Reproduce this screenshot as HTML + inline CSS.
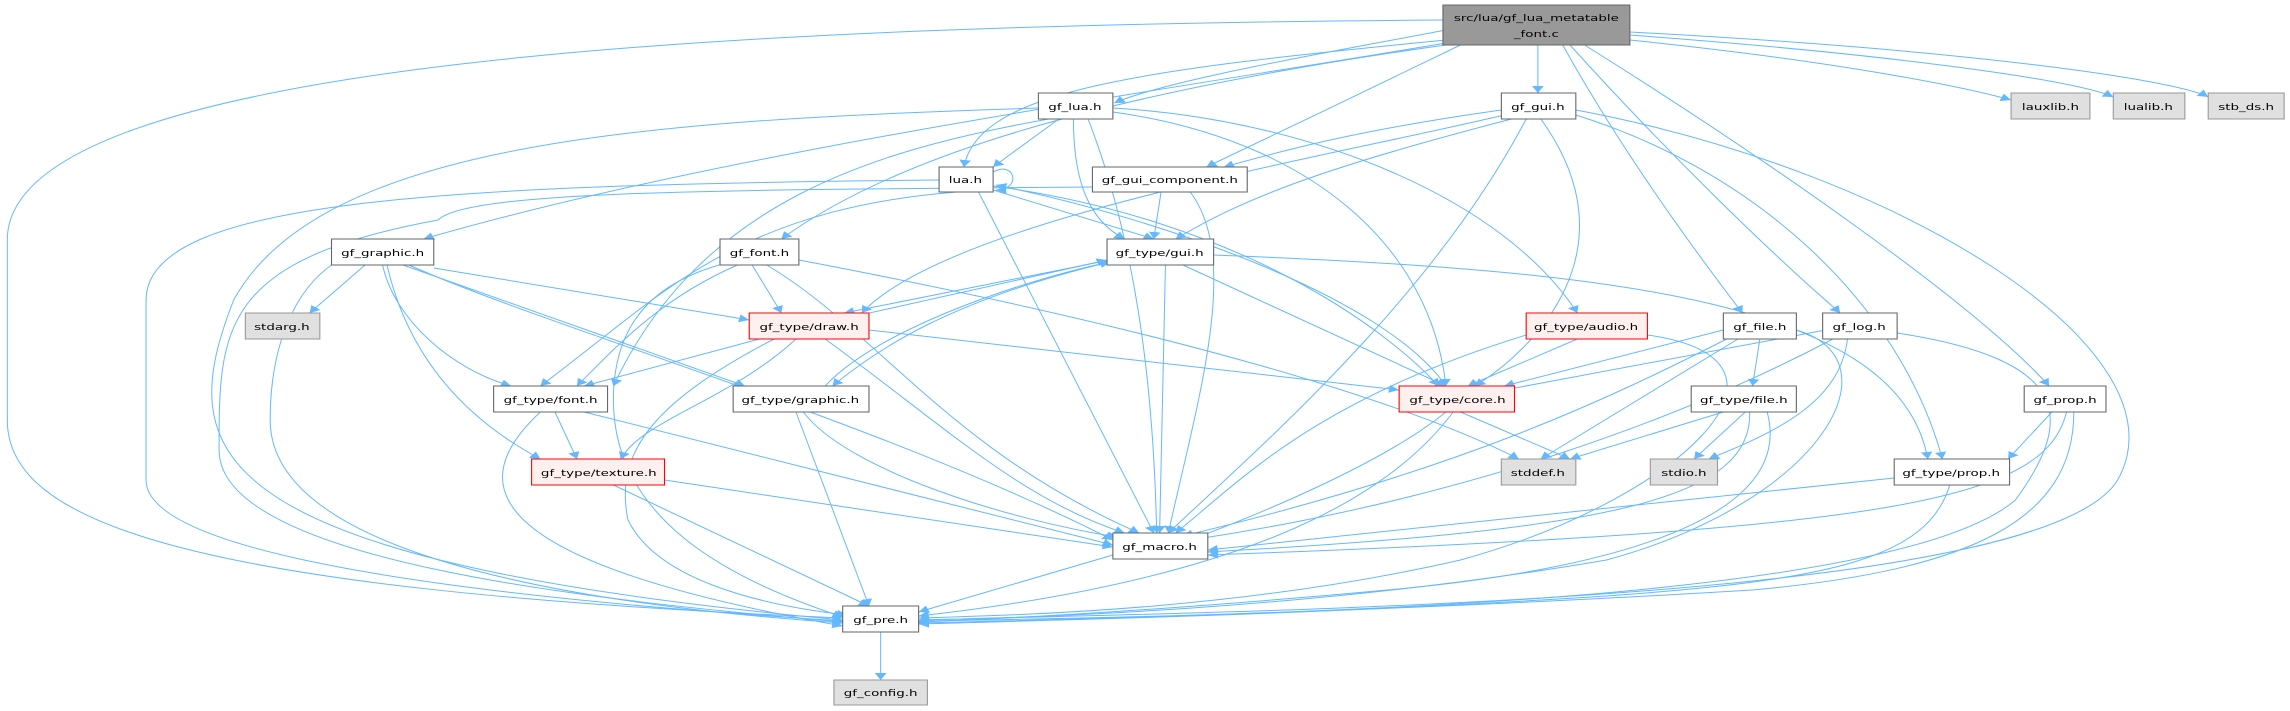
<!DOCTYPE html>
<html><head><meta charset="utf-8"><style>
html,body{margin:0;padding:0;background:#fff;}
svg{display:block;}
text{font-family:"DejaVu Sans","Liberation Sans",sans-serif;font-size:9.2px;fill:#000;}
.e{fill:none;stroke:#63b8ff;stroke-width:1;vector-effect:non-scaling-stroke;}
.n{fill:#fff;stroke:#666;stroke-width:1.1;vector-effect:non-scaling-stroke;}
.g{fill:#e0e0e0;stroke:#999;stroke-width:1.1;vector-effect:non-scaling-stroke;}
.r{fill:#fff0f0;stroke:#f00;stroke-width:1.1;vector-effect:non-scaling-stroke;}
.t{fill:#999;stroke:#666;stroke-width:1.1;vector-effect:non-scaling-stroke;}
</style></head><body>
<svg width="2290" height="711" viewBox="0 0 1568 711" preserveAspectRatio="none">
<defs><marker id="a" markerUnits="userSpaceOnUse" markerWidth="8" markerHeight="10" refX="7" refY="4" orient="auto"><path d="M0,0 L7,4 L0,8 z" fill="#63b8ff"/></marker></defs>
<g marker-end="url(#a)">
<path class="e" d="M988,20 C500,25 5,60 5,240 L5,420 C5,520 120,590 577,618"/>
<path class="e" d="M990,30 C900,55 800,80 763,103"/>
<path class="e" d="M990,40 C780,70 670,90 660,167"/>
<path class="e" d="M990,43 C800,90 500,150 290,239"/>
<path class="e" d="M990,45 C720,100 600,170 535,239"/>
<path class="e" d="M1000,45 C950,80 880,130 826,167"/>
<path class="e" d="M1053,45 L1053,93"/>
<path class="e" d="M1070,45 C1110,150 1160,250 1193,313"/>
<path class="e" d="M1075,45 C1140,150 1210,250 1260,313"/>
<path class="e" d="M1085,45 C1200,150 1350,300 1403,386"/>
<path class="e" d="M1116,40 C1250,60 1340,85 1377,100"/>
<path class="e" d="M1116,35 C1300,55 1420,80 1447,97"/>
<path class="e" d="M1116,32 C1350,50 1490,80 1512,97"/>
<path class="e" d="M725,119 L680,167"/>
<path class="e" d="M711,108 C450,120 220,140 160,300 C120,450 130,560 577,620"/>
<path class="e" d="M718,119 C600,150 480,200 420,386"/>
<path class="e" d="M735,119 C735,180 745,220 770,239"/>
<path class="e" d="M745,119 C780,250 790,400 792,533"/>
<path class="e" d="M762,112 C900,140 980,250 990,386"/>
<path class="e" d="M762,108 C900,120 1030,200 1080,313"/>
<path class="e" d="M1028,110 C930,130 880,150 838,167"/>
<path class="e" d="M1035,119 C900,170 850,200 805,239"/>
<path class="e" d="M1030,115 C900,160 650,220 590,313"/>
<path class="e" d="M1045,119 C980,300 860,450 800,533"/>
<path class="e" d="M1055,119 C1120,250 1050,350 1010,386"/>
<path class="e" d="M1079,115 C1200,170 1300,300 1330,459"/>
<path class="e" d="M1079,110 C1300,170 1500,350 1450,480 C1400,600 900,610 629,620"/>
<path class="e" d="M680,172 C695,160 700,190 682,190"/>
<path class="e" d="M643,180 C300,185 100,200 100,300 L100,480 C100,560 350,600 577,621"/>
<path class="e" d="M680,190 L790,239"/>
<path class="e" d="M670,192 L790,533"/>
<path class="e" d="M680,186 C850,220 950,330 985,386"/>
<path class="e" d="M655,192 C500,210 450,300 370,386"/>
<path class="e" d="M990,386 C950,300 800,220 682,185"/>
<path class="e" d="M748,187 C500,190 320,190 300,220 C150,260 150,330 150,450 C150,560 400,600 577,622"/>
<path class="e" d="M795,192 L790,239"/>
<path class="e" d="M815,192 C850,260 820,400 800,533"/>
<path class="e" d="M250,265 L212,313"/>
<path class="e" d="M297,268 L513,320"/>
<path class="e" d="M262,265 C270,320 310,370 350,386"/>
<path class="e" d="M276,265 L510,386"/>
<path class="e" d="M265,265 C280,360 320,420 370,459"/>
<path class="e" d="M280,265 C380,330 600,420 762,540"/>
<path class="e" d="M230,262 C200,290 185,350 185,420 C185,540 350,600 577,623"/>
<path class="e" d="M515,265 L535,313"/>
<path class="e" d="M505,265 C450,300 420,350 395,386"/>
<path class="e" d="M500,262 C450,280 420,320 420,400 C420,520 500,580 577,617"/>
<path class="e" d="M525,265 C600,330 650,450 780,533"/>
<path class="e" d="M547,260 C800,330 960,400 1040,459"/>
<path class="e" d="M760,260 L578,313"/>
<path class="e" d="M760,262 C650,300 600,350 570,386"/>
<path class="e" d="M810,265 L990,386"/>
<path class="e" d="M798,265 L794,533"/>
<path class="e" d="M831,255 C1100,270 1300,300 1320,459"/>
<path class="e" d="M580,318 L758,260"/>
<path class="e" d="M565,386 C600,330 700,280 760,262"/>
<path class="e" d="M520,339 L400,386"/>
<path class="e" d="M545,339 C500,400 440,420 425,459"/>
<path class="e" d="M595,330 L958,390"/>
<path class="e" d="M565,339 C650,430 700,500 770,533"/>
<path class="e" d="M530,339 C450,400 420,450 430,520 C450,580 520,605 580,615"/>
<path class="e" d="M380,412 L395,459"/>
<path class="e" d="M400,412 L762,545"/>
<path class="e" d="M370,412 C320,480 320,560 577,626"/>
<path class="e" d="M550,412 C580,470 690,520 765,537"/>
<path class="e" d="M545,412 L595,606"/>
<path class="e" d="M455,480 L762,547"/>
<path class="e" d="M420,485 L595,606"/>
<path class="e" d="M1080,339 L1005,386"/>
<path class="e" d="M1045,335 C900,400 850,480 805,533"/>
<path class="e" d="M1128,335 C1250,360 1150,500 1000,560 C850,610 700,615 629,618"/>
<path class="e" d="M1180,330 L1030,386"/>
<path class="e" d="M1205,339 L1200,386"/>
<path class="e" d="M1190,339 L1055,459"/>
<path class="e" d="M1185,337 C1100,400 1000,470 810,536"/>
<path class="e" d="M1230,330 C1300,360 1250,500 1100,560 C900,610 700,618 629,620"/>
<path class="e" d="M1250,330 L1030,390"/>
<path class="e" d="M1265,339 C1260,400 1220,430 1170,459"/>
<path class="e" d="M1255,339 C1150,420 1000,500 815,540"/>
<path class="e" d="M1299,333 C1420,360 1420,420 1380,500 C1300,600 900,615 629,621"/>
<path class="e" d="M1000,412 L1075,459"/>
<path class="e" d="M990,412 C950,460 870,510 815,540"/>
<path class="e" d="M995,412 C950,500 850,580 629,616"/>
<path class="e" d="M1180,412 L1075,459"/>
<path class="e" d="M1195,412 L1160,459"/>
<path class="e" d="M1198,412 C1200,500 1100,530 827,552"/>
<path class="e" d="M1210,412 C1230,520 1100,570 950,590 C800,610 700,618 629,622"/>
<path class="e" d="M1405,412 L1375,459"/>
<path class="e" d="M1415,412 C1400,500 1300,530 827,555"/>
<path class="e" d="M1420,412 C1420,520 1350,570 1200,590 C950,612 720,620 629,623"/>
<path class="e" d="M1297,478 L827,550"/>
<path class="e" d="M1335,485 C1320,560 1250,580 1100,596 C900,615 720,620 629,624"/>
<path class="e" d="M762,555 L629,612"/>
<path class="e" d="M603,632 L603,680"/>
</g>
<rect class="t" x="988" y="5" width="128" height="40"/>
<text x="1052" y="21" text-anchor="middle">src/lua/gf_lua_metatable</text>
<text x="1052" y="37" text-anchor="middle">_font.c</text>
<rect class="n" x="711" y="93" width="51" height="26"/><text x="736" y="110" text-anchor="middle">gf_lua.h</text>
<rect class="n" x="1028" y="93" width="51" height="26"/><text x="1053" y="110" text-anchor="middle">gf_gui.h</text>
<rect class="g" x="1377" y="93" width="54" height="26"/><text x="1404" y="110" text-anchor="middle">lauxlib.h</text>
<rect class="g" x="1447" y="93" width="49" height="26"/><text x="1471" y="110" text-anchor="middle">lualib.h</text>
<rect class="g" x="1512" y="93" width="52" height="26"/><text x="1538" y="110" text-anchor="middle">stb_ds.h</text>
<rect class="n" x="643" y="167" width="37" height="25"/><text x="661" y="183" text-anchor="middle">lua.h</text>
<rect class="n" x="748" y="167" width="106" height="25"/><text x="801" y="183" text-anchor="middle">gf_gui_component.h</text>
<rect class="n" x="227" y="239" width="70" height="26"/><text x="262" y="256" text-anchor="middle">gf_graphic.h</text>
<rect class="n" x="493" y="239" width="54" height="26"/><text x="520" y="256" text-anchor="middle">gf_font.h</text>
<rect class="n" x="758" y="239" width="73" height="26"/><text x="794" y="256" text-anchor="middle">gf_type/gui.h</text>
<rect class="g" x="168" y="313" width="51" height="26"/><text x="193" y="330" text-anchor="middle">stdarg.h</text>
<rect class="r" x="513" y="313" width="82" height="26"/><text x="554" y="330" text-anchor="middle">gf_type/draw.h</text>
<rect class="r" x="1045" y="313" width="83" height="26"/><text x="1086" y="330" text-anchor="middle">gf_type/audio.h</text>
<rect class="n" x="1180" y="313" width="50" height="26"/><text x="1205" y="330" text-anchor="middle">gf_file.h</text>
<rect class="n" x="1248" y="313" width="51" height="26"/><text x="1273" y="330" text-anchor="middle">gf_log.h</text>
<rect class="n" x="338" y="386" width="78" height="26"/><text x="377" y="403" text-anchor="middle">gf_type/font.h</text>
<rect class="n" x="502" y="386" width="93" height="26"/><text x="548" y="403" text-anchor="middle">gf_type/graphic.h</text>
<rect class="r" x="958" y="386" width="79" height="26"/><text x="998" y="403" text-anchor="middle">gf_type/core.h</text>
<rect class="n" x="1158" y="386" width="72" height="26"/><text x="1194" y="403" text-anchor="middle">gf_type/file.h</text>
<rect class="n" x="1386" y="386" width="56" height="26"/><text x="1414" y="403" text-anchor="middle">gf_prop.h</text>
<rect class="r" x="364" y="459" width="91" height="26"/><text x="410" y="476" text-anchor="middle">gf_type/texture.h</text>
<rect class="g" x="1028" y="459" width="51" height="26"/><text x="1053" y="476" text-anchor="middle">stddef.h</text>
<rect class="g" x="1130" y="459" width="46" height="26"/><text x="1153" y="476" text-anchor="middle">stdio.h</text>
<rect class="n" x="1297" y="459" width="79" height="26"/><text x="1336" y="476" text-anchor="middle">gf_type/prop.h</text>
<rect class="n" x="762" y="533" width="65" height="26"/><text x="794" y="550" text-anchor="middle">gf_macro.h</text>
<rect class="n" x="577" y="606" width="52" height="26"/><text x="603" y="623" text-anchor="middle">gf_pre.h</text>
<rect class="g" x="571" y="680" width="64" height="25"/><text x="603" y="696" text-anchor="middle">gf_config.h</text>
</svg>
</body></html>
